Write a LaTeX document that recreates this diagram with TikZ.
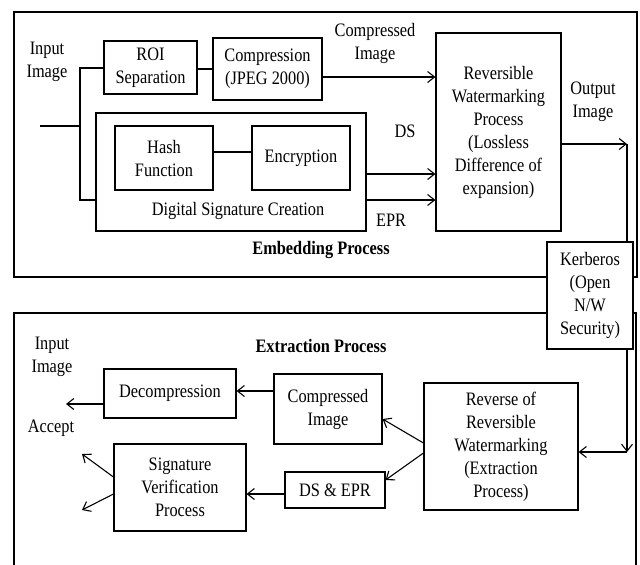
\documentclass[tikz,border=0pt]{standalone}
\usepackage{fontspec}
\setmainfont{Liberation Serif}[FakeStretch=0.86]
\usetikzlibrary{arrows.meta,calc}
\begin{document}
\begin{tikzpicture}[x=1pt,y=-1pt,
  txt/.style={font=\fontsize{19}{23}\selectfont,align=center,inner sep=0pt},
  blk/.style={draw,line width=1.1pt,fill=white,font=\fontsize{19}{23}\selectfont,align=center,inner sep=0pt},
  frame/.style={draw,line width=2pt},
  conn/.style={line width=1.1pt},
  arr/.style={line width=1.1pt,-{Straight Barb[length=7pt,width=11pt,line width=1.1pt]}},
  title/.style={font=\fontsize{19}{23}\selectfont\bfseries,inner sep=0pt}]
\useasboundingbox (0,0) rectangle (640,565);
% frames
\draw[frame] (14,12) rectangle (637,277);
\draw[frame] (14,565) -- (14,313) -- (636,313) -- (636,565);
% top part
\node[txt] (inimg) at (47,62) {Input\\Image};
\node[blk,minimum width=93pt,minimum height=53pt] (roi) at (150.5,67.5) {ROI\\Separation};
\node[blk,minimum width=109pt,minimum height=62pt] (comp) at (267.5,69) {Compression\\(JPEG 2000)};
\node[blk,minimum width=270pt,minimum height=118pt] (dsc) at (231,172) {};
\node[blk,minimum width=98pt,minimum height=64pt] (hash) at (164,158) {Hash\\Function};
\node[blk,minimum width=98pt,minimum height=64pt] (enc) at (301,158) {Encryption};
\node[txt] (dsclab) at (238,211) {Digital Signature Creation};
\node[blk,minimum width=125pt,minimum height=198pt] (rw) at (498.5,132) {Reversible\\Watermarking\\Process\\(Lossless\\Difference of\\expansion)};
\node[txt] (cilab) at (375,43) {Compressed\\Image};
\node[txt] (dslab) at (405,131) {DS};
\node[txt] (eprlab) at (391,220) {EPR};
\node[txt] (outlab) at (593,102) {Output\\Image};
\node[title] (emb) at (321,250) {Embedding Process};
% connectors top
\coordinate (in0) at (40,126);
\coordinate (jt) at (80,68);
\coordinate (jb) at (80,200);
\draw[conn] (in0) -- (in0 -| jt);
\draw[conn] (roi.west |- jt) -- (jt) -- (jb) -- (jb -| dsc.west);
\draw[conn] (roi.east |- 0,69) -- (comp.west |- 0,69);
\draw[conn] ([yshift=6pt]hash.east) -- ([yshift=6pt]enc.west);
\draw[arr] (comp.east |- 0,77) -- (rw.west |- 0,77);
\draw[arr] (dsc.east |- 0,174) -- (rw.west |- 0,174);
\draw[arr] (dsc.east |- 0,200) -- (rw.west |- 0,200);
\coordinate (oc) at (627,144);
\draw[arr] (rw.east |- oc) -- (oc);
% Kerberos
\node[blk,minimum width=86pt,minimum height=107pt] (kerb) at (590,295.5) {Kerberos\\(Open\\N/W\\Security)};
\draw[conn] (oc) -- (oc |- kerb.north);
% bottom part
\node[title] (ext) at (321,346) {Extraction Process};
\node[blk,minimum width=154pt,minimum height=127pt] (rev) at (501,446.5) {Reverse of\\Reversible\\Watermarking\\(Extraction\\Process)};
\node[blk,minimum width=108pt,minimum height=70pt] (ci2) at (328,409) {Compressed\\Image};
\node[blk,minimum width=100pt,minimum height=36pt] (dsepr) at (335,490) {DS \& EPR};
\node[blk,minimum width=132pt,minimum height=49pt] (decomp) at (170,393.5) {Decompression};
\node[blk,minimum width=132pt,minimum height=87pt] (sig) at (180,487.5) {Signature\\Verification\\Process};
\node[txt] (inimg2) at (52,357) {Input\\Image};
\node[txt] (acc) at (51,428) {Accept};
\coordinate (kc) at (627,452);
\draw[arr] (kerb.south -| kc) -- (kc);
\draw[arr] (kc) -- (rev.east |- kc);
\draw[arr] (rev.west |- 0,443) -- (ci2.east |- 0,419);
\draw[arr] (rev.west |- 0,453) -- (dsepr.east |- 0,480);
\draw[arr] (ci2.west |- 0,391) -- (decomp.east |- 0,391);
\coordinate (dout) at (66,404);
\draw[arr] (decomp.west |- dout) -- (dout);
\draw[arr] (dsepr.west |- 0,494) -- (sig.east |- 0,494);
\coordinate (a1) at (82,454);
\coordinate (a2) at (82,510);
\draw[arr] (sig.west |- 0,477) -- (a1);
\draw[arr] (sig.west |- 0,494) -- (a2);
\end{tikzpicture}
\end{document}
